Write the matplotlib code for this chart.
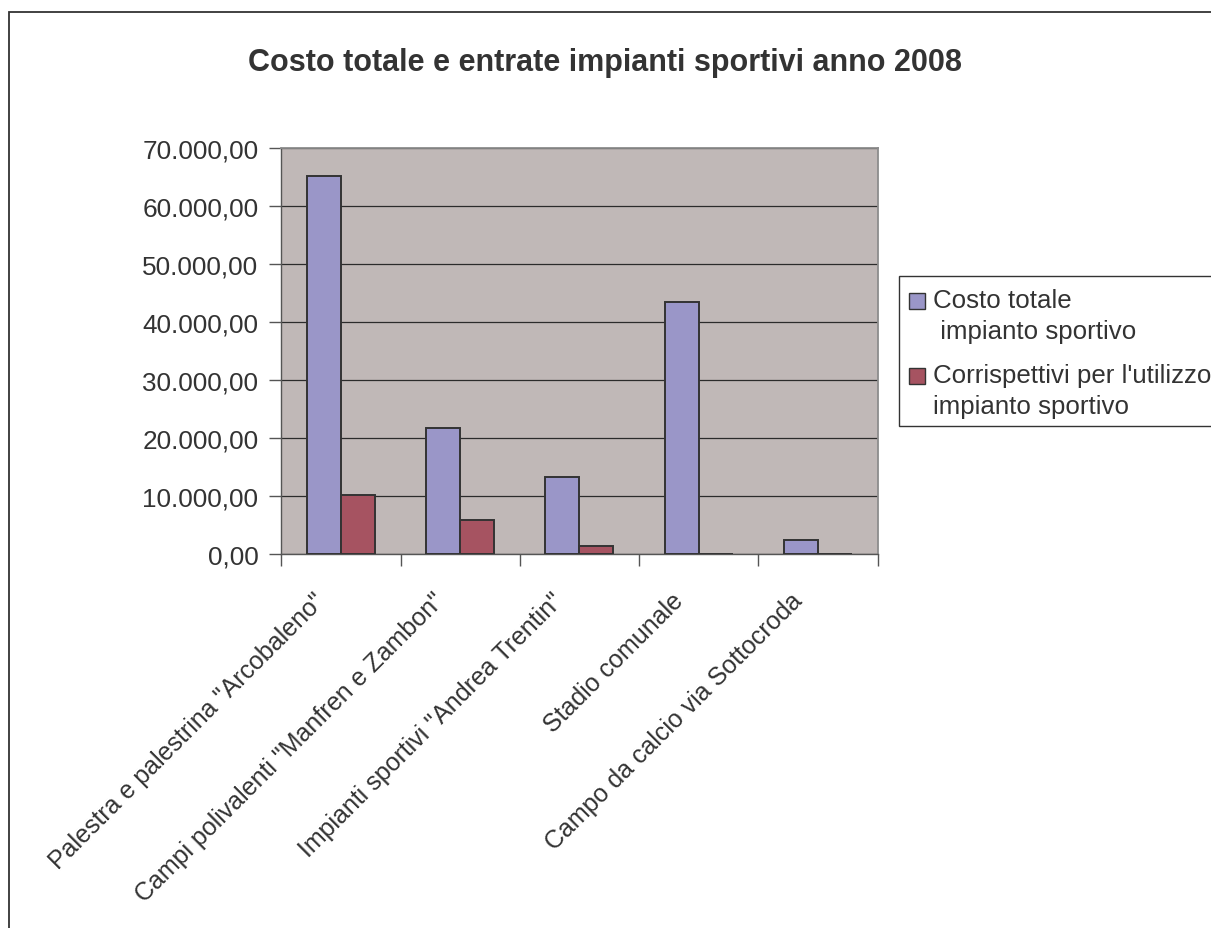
import matplotlib
matplotlib.use("Agg")
import matplotlib.pyplot as plt
from matplotlib.patches import Rectangle
import numpy as np

plt.rcParams['font.family'] = ['Liberation Sans', 'DejaVu Sans']

# Data
categories = [
    'Palestra e palestrina "Arcobaleno"',
    'Campi polivalenti "Manfren e Zambon"',
    'Impianti sportivi "Andrea Trentin"',
    'Stadio comunale',
    'Campo da calcio via Sottocroda',
]
costo_totale = [65200, 21700, 13300, 43400, 2400]
corrispettivi = [10200, 5900, 1400, 0, 0]
series_labels = ['Costo totale\n impianto sportivo',
                 "Corrispettivi per l'utilizzo\nimpianto sportivo"]
yticks = [0, 10000, 20000, 30000, 40000, 50000, 60000, 70000]
title = 'Costo totale e entrate impianti sportivi anno 2008'


def it_format(v):
    s = f"{v:,.2f}"
    return s.replace(',', 'X').replace('.', ',').replace('X', '.')


W, H = 1211, 929
fig = plt.figure(figsize=(W / 100, H / 100), dpi=100)
fig.patch.set_facecolor('white')


def fx(px):
    return px / W


def fy(py):
    return 1 - py / H


text_color = '#333333'
edge = '#333333'
blue = '#9A96C8'
red = '#A65361'
series_colors = [blue, red]

# chart area frame (runs off the right and bottom edges)
fig.patches.append(Rectangle((fx(9), -0.05), 1.2, fy(13) + 0.05,
                             transform=fig.transFigure, fill=False,
                             edgecolor=edge, linewidth=1.3))

ax = fig.add_axes([fx(281.3), fy(555), fx(877.5 - 281.3), (555 - 149.3) / H])
ax.set_facecolor('#C0B8B7')

x = np.arange(len(categories))
w = 1 / 3.5
ax.bar(x - w / 2, costo_totale, width=w, color=blue, edgecolor=edge,
       linewidth=1.4, zorder=3)
ax.bar(x + w / 2, corrispettivi, width=w, color=red, edgecolor=edge,
       linewidth=1.4, zorder=3)

ax.set_xlim(-0.5, len(categories) - 0.5)
ax.set_ylim(0, 70000)
ax.set_yticks(yticks)
ax.set_yticklabels([it_format(v) for v in yticks])
ax.yaxis.grid(True, color='#2b2b2b', linewidth=0.9, zorder=1)
ax.set_axisbelow(True)

# category boundaries carry the tick marks, names sit under each group
ax.set_xticks(np.arange(-0.5, len(categories)))
ax.set_xticklabels([])
for xi, name in zip(x, categories):
    ax.annotate(name, xy=(xi, 0), xycoords=('data', 'axes fraction'),
                xytext=(-28, -34), textcoords='offset pixels',
                rotation=45, rotation_mode='anchor', ha='right', va='top',
                fontsize=18, color=text_color, annotation_clip=False)

ax.tick_params(axis='x', length=8.5, width=1, color='#555555', direction='out')
ax.tick_params(axis='y', length=8.5, width=1, color='#555555', pad=8,
               labelsize=18.8, labelcolor=text_color)

for side in ('top', 'right'):
    ax.spines[side].set_color('#8c8c8c')
    ax.spines[side].set_linewidth(1.3)
for side in ('left', 'bottom'):
    ax.spines[side].set_color('#555555')
    ax.spines[side].set_linewidth(1.0)

fig.text(0.5, fy(63), title, ha='center', va='center', fontsize=22,
         fontweight='bold', color=text_color)

# legend box
fig.patches.append(Rectangle((fx(899), fy(427)), 0.5, (427 - 277) / H,
                             transform=fig.transFigure, facecolor='white',
                             edgecolor=edge, linewidth=1.0))
first_baselines = [308, 383]
line_step = 31
for label, color, base in zip(series_labels, series_colors, first_baselines):
    fig.patches.append(Rectangle((fx(909), fy(base + 2)), 16 / W, 16 / H,
                                 transform=fig.transFigure, facecolor=color,
                                 edgecolor=edge, linewidth=1.0))
    for i, line in enumerate(label.split('\n')):
        fig.text(fx(933), fy(base + i * line_step), line, ha='left',
                 va='baseline', fontsize=18.6, color=text_color)

fig.savefig('out.png', dpi=100, facecolor='white')
